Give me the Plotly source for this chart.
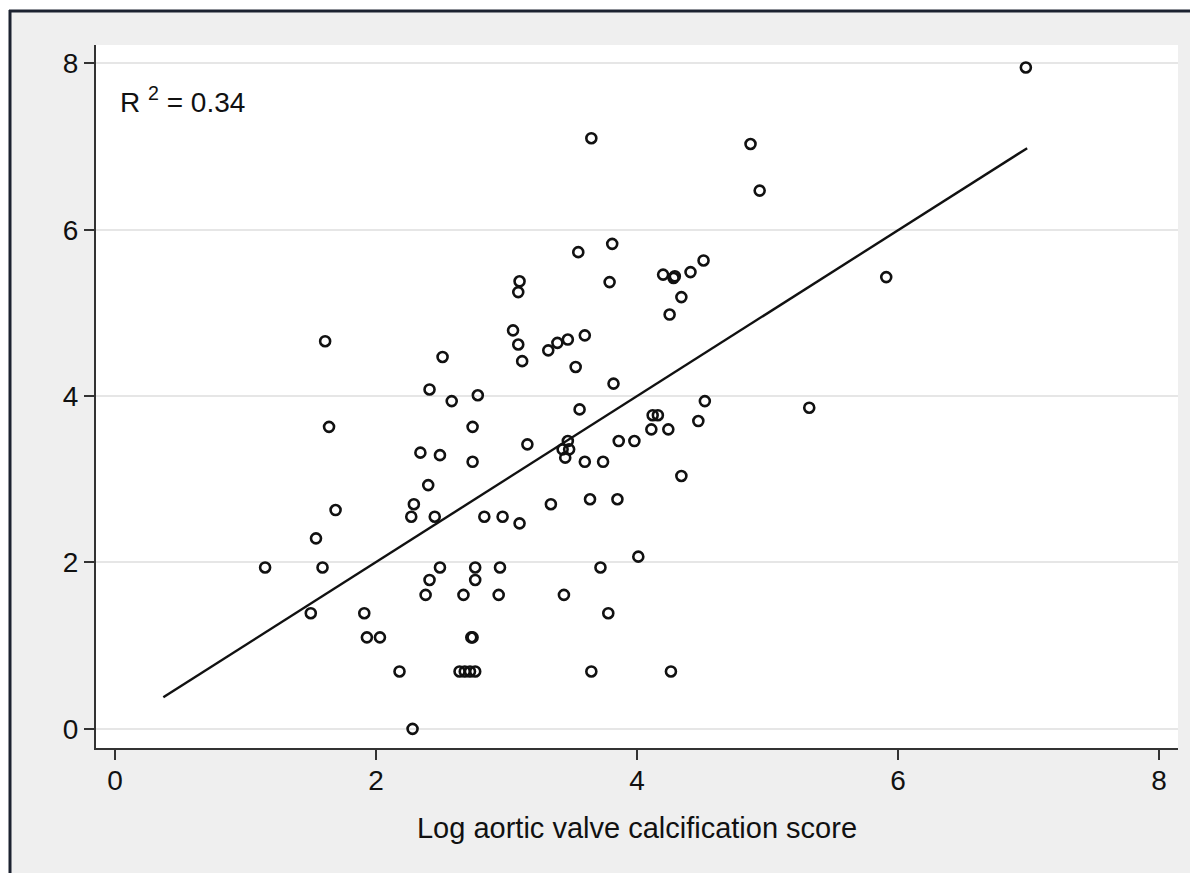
import plotly.graph_objects as go

# Data
avc_log = [6.98, 3.65, 4.87, 4.94, 3.55, 3.81, 5.91, 3.10, 3.09, 3.79,
           4.20, 4.28, 4.29, 4.41, 4.51, 4.34, 4.25, 1.61, 3.05, 3.09,
           3.32, 3.39, 3.47, 3.60, 2.51, 3.12, 3.53, 2.41, 3.82, 2.78,
           2.58, 4.52, 1.64, 3.56, 5.32, 4.12, 4.16, 4.47, 2.74, 4.11,
           4.24, 3.16, 3.47, 3.86, 3.98, 3.43, 3.48, 3.45, 2.34, 2.49,
           3.60, 3.74, 2.74, 4.34, 2.40, 1.69, 3.34, 2.29, 3.64, 3.85,
           2.27, 2.45, 2.83, 2.97, 3.10, 1.54, 4.01, 1.15, 1.59, 2.49,
           2.76, 2.95, 3.72, 2.41, 2.76, 2.38, 2.67, 2.94, 3.44, 1.50,
           1.91, 3.78, 1.93, 2.03, 2.73, 2.74, 2.18, 2.64, 2.68, 2.72,
           2.76, 3.65, 4.26, 2.28]
outcome = [7.95, 7.10, 7.03, 6.47, 5.73, 5.83, 5.43, 5.38, 5.25, 5.37,
           5.46, 5.42, 5.44, 5.49, 5.63, 5.19, 4.98, 4.66, 4.79, 4.62,
           4.55, 4.64, 4.68, 4.73, 4.47, 4.42, 4.35, 4.08, 4.15, 4.01,
           3.94, 3.94, 3.63, 3.84, 3.86, 3.77, 3.77, 3.70, 3.63, 3.60,
           3.60, 3.42, 3.46, 3.46, 3.46, 3.36, 3.36, 3.26, 3.32, 3.29,
           3.21, 3.21, 3.21, 3.04, 2.93, 2.63, 2.70, 2.70, 2.76, 2.76,
           2.55, 2.55, 2.55, 2.55, 2.47, 2.29, 2.07, 1.94, 1.94, 1.94,
           1.94, 1.94, 1.94, 1.79, 1.79, 1.61, 1.61, 1.61, 1.61, 1.39,
           1.39, 1.39, 1.10, 1.10, 1.10, 1.10, 0.69, 0.69, 0.69, 0.69,
           0.69, 0.69, 0.69, 0.00]

fit_x = [0.37, 6.99]
fit_y = [0.38, 6.98]

x_ticks = [0, 2, 4, 6, 8]
y_ticks = [0, 2, 4, 6, 8]
x_title = "Log aortic valve calcification score"
r2_text = "R <sup>2</sup> = 0.34"

FONT = "Arial, Liberation Sans, sans-serif"

fig = go.Figure()
fig.add_trace(go.Scatter(
    x=fit_x, y=fit_y, mode="lines",
    line=dict(color="#111111", width=2.4), showlegend=False, hoverinfo="skip"))
fig.add_trace(go.Scatter(
    x=avc_log, y=outcome, mode="markers",
    marker=dict(symbol="circle-open", size=10, color="#111111",
                line=dict(width=2.6, color="#111111")),
    showlegend=False))

# page has an 8px body margin on every side; keep the figure inside the
# viewport (no scrollbars): figure coords = page coords - 8
OFF = 8
W, H = 1198 - 2 * OFF, 881 - 2 * OFF
L, T = 96 - OFF, 45 - OFF
R = (1198 - OFF) - 1178
B = (881 - OFF) - 748
pw, ph = W - L - R, H - T - B


def px_x(p):
    return (p - OFF - L) / pw


def px_y(p):
    return (H - B - (p - OFF)) / ph


FRAME = "#1c2230"
fig.update_layout(
    width=W, height=H,
    margin=dict(l=L, r=R, t=T, b=B, pad=0),
    paper_bgcolor="white",
    plot_bgcolor="white",
    font=dict(family=FONT, color="#111111"),
    shapes=[
        dict(type="rect", xref="paper", yref="paper", layer="below",
             x0=px_x(10), x1=px_x(1300), y0=px_y(1000), y1=px_y(11),
             fillcolor="#efefef", line=dict(width=0)),
        dict(type="line", xref="paper", yref="paper", layer="below",
             x0=px_x(9), x1=px_x(1300), y0=px_y(11), y1=px_y(11),
             line=dict(color=FRAME, width=3)),
        dict(type="line", xref="paper", yref="paper", layer="below",
             x0=px_x(10), x1=px_x(10), y0=px_y(10), y1=px_y(1000),
             line=dict(color=FRAME, width=3)),
        dict(type="rect", xref="paper", yref="paper", layer="below",
             x0=0, x1=1, y0=0, y1=1,
             fillcolor="white", line=dict(width=0)),
    ],
    annotations=[
        dict(text=r2_text, xref="paper", yref="paper",
             x=px_x(118), y=px_y(100), xanchor="left", yanchor="middle",
             showarrow=False, font=dict(size=28, family=FONT, color="#111111")),
    ],
)

fig.update_xaxes(
    range=[-0.146, 8.146], tickvals=x_ticks, ticktext=[str(v) for v in x_ticks],
    showgrid=False, zeroline=False,
    showline=True, linecolor="#333333", linewidth=2,
    ticks="outside", ticklen=10, tickwidth=2, tickcolor="#333333",
    ticklabelstandoff=-4,
    tickfont=dict(size=28, family=FONT, color="#111111"),
    title=dict(text=x_title, font=dict(size=29, family=FONT, color="#111111"),
               standoff=23),
)
fig.update_yaxes(
    range=[-0.23, 8.22], tickvals=y_ticks, ticktext=[str(v) for v in y_ticks],
    showgrid=True, gridcolor="#e6e6e6", gridwidth=2,
    zeroline=False,
    showline=True, linecolor="#333333", linewidth=2,
    ticks="outside", ticklen=10, tickwidth=2, tickcolor="#333333",
    tickfont=dict(size=28, family=FONT, color="#111111"),
)

fig.write_html("out.html")
